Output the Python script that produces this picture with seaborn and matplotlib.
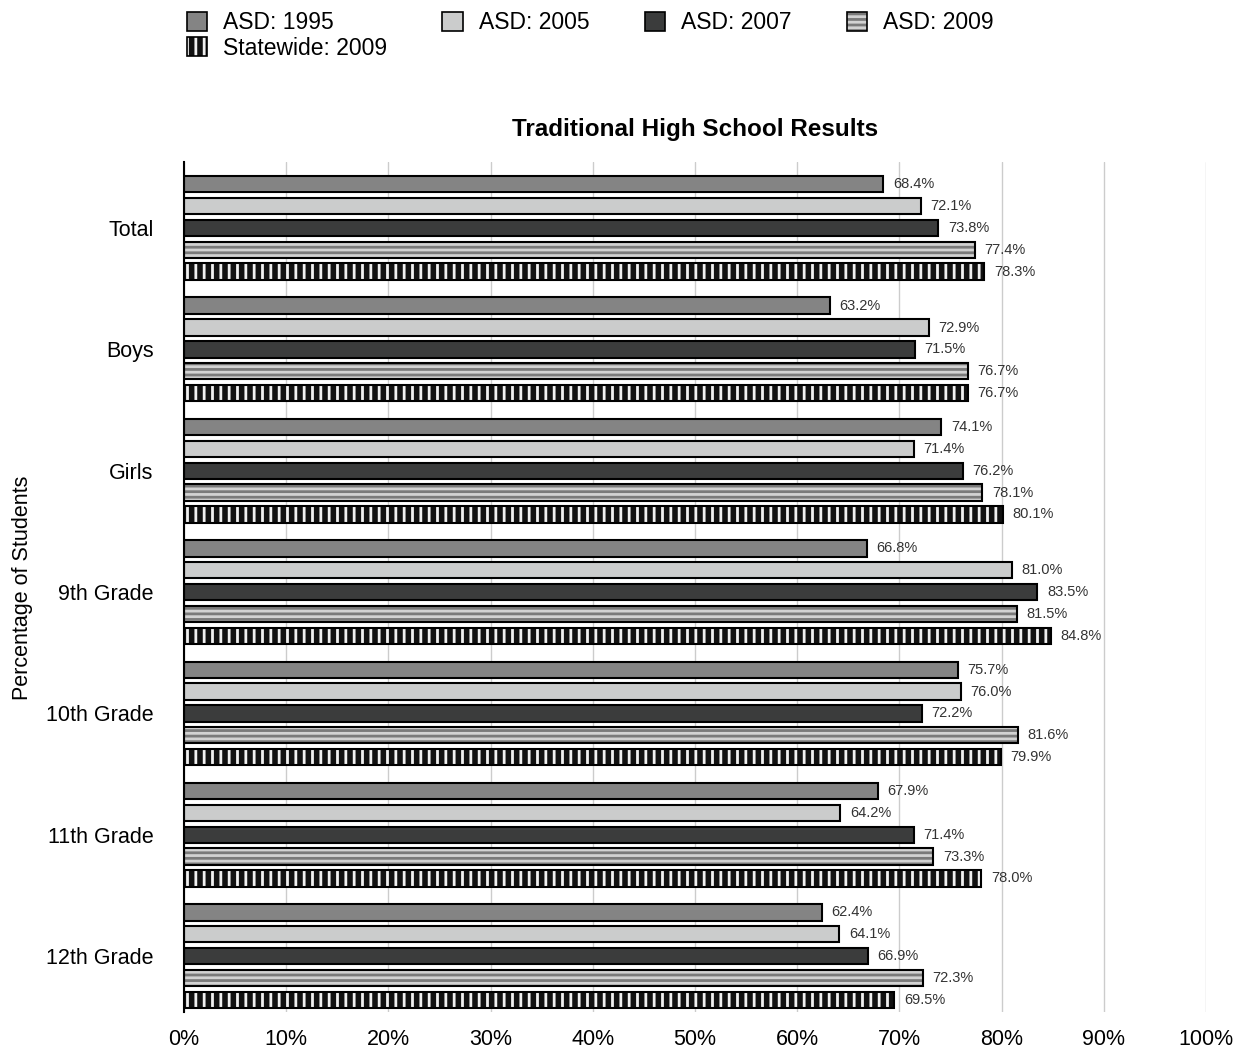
import pandas as pd
import matplotlib
matplotlib.use("Agg")
import matplotlib.pyplot as plt
import matplotlib.patches as mpatches
from matplotlib.legend_handler import HandlerTuple
import seaborn as sns

groups = ["Total", "Boys", "Girls", "9th Grade", "10th Grade", "11th Grade", "12th Grade"]
series = ["ASD: 1995", "ASD: 2005", "ASD: 2007", "ASD: 2009", "Statewide: 2009"]
asd_1995 = [68.4, 63.2, 74.1, 66.8, 75.7, 67.9, 62.4]
asd_2005 = [72.1, 72.9, 71.4, 81.0, 76.0, 64.2, 64.1]
asd_2007 = [73.8, 71.5, 76.2, 83.5, 72.2, 71.4, 66.9]
asd_2009 = [77.4, 76.7, 78.1, 81.5, 81.6, 73.3, 72.3]
state_2009 = [78.3, 76.7, 80.1, 84.8, 79.9, 78.0, 69.5]
xticks = [0, 10, 20, 30, 40, 50, 60, 70, 80, 90, 100]

values = [asd_1995, asd_2005, asd_2007, asd_2009, state_2009]
rows = []
for s, vals in zip(series, values):
    for g, v in zip(groups, vals):
        rows.append({"group": g, "series": s, "value": v})
df = pd.DataFrame(rows)

colors = ["#848484", "#cbcccc", "#3b3c3c", "#d2d2d2", "#111111"]
hatches = [None, None, None, "---", "||"]
hatch_cols = [None, None, None, "#7a7a7a", "#f0f0f0"]

sns.set_style("white")
plt.rcParams["font.family"] = ["Liberation Sans", "DejaVu Sans"]
plt.rcParams["hatch.linewidth"] = 2.0
plt.rcParams["text.color"] = "black"
plt.rcParams["xtick.color"] = "black"
plt.rcParams["ytick.color"] = "black"

fig = plt.figure(figsize=(12.36, 10.49), dpi=100)
ax = fig.add_axes([0.1489, 0.0353, 0.8268, 0.8103])

sns.barplot(data=df, y="group", x="value", hue="series", orient="h",
            palette=colors, edgecolor="black", linewidth=1.5,
            width=0.9, gap=0.25, legend=False, ax=ax, zorder=2)

for i, cont in enumerate(ax.containers):
    if hatches[i]:
        for p in cont:
            p.set_hatch(hatches[i])
            p.set_edgecolor(hatch_cols[i])
            p.set_linewidth(0)
            ax.add_patch(mpatches.Rectangle(p.get_xy(), p.get_width(), p.get_height(),
                                            fill=False, edgecolor="black", linewidth=1.5, zorder=3))
    ax.bar_label(cont, labels=[f"{v:.1f}%" for v in values[i]], padding=7,
                 fontsize=10.5, color="#333333")

ax.set_xlim(0, 100)
ax.set_ylim(6.46, -0.544)
ax.set_xticks(xticks)
ax.set_xticklabels([f"{t}%" for t in xticks], fontsize=15.5)
ax.tick_params(axis="y", labelsize=15.5, length=0, pad=22)
ax.tick_params(axis="x", length=0, pad=12)
ax.grid(axis="x", color="#cccccc", linewidth=1, zorder=0)
ax.set_axisbelow(True)
for s in ["right", "top", "bottom"]:
    ax.spines[s].set_visible(False)
ax.spines["left"].set_color("black")
ax.spines["left"].set_linewidth(1.5)
ax.spines["left"].set_zorder(4)
ax.set_xlabel("")
ax.set_ylabel("")
fig.text(0.018, 0.44, "Percentage of Students", rotation=90, fontsize=15.5,
         ha="center", va="center")
ax.set_title("Traditional High School Results", fontsize=17.5, fontweight="bold", pad=19)

handles = []
for i, s in enumerate(series):
    if hatches[i]:
        h1 = mpatches.Patch(facecolor=colors[i], edgecolor=hatch_cols[i], hatch=hatches[i], linewidth=0)
        h2 = mpatches.Patch(facecolor="none", edgecolor="black", linewidth=1.2)
        handles.append((h1, h2))
    else:
        handles.append(mpatches.Patch(facecolor=colors[i], edgecolor="black", linewidth=1.2))
# legend fills column-wise, so reorder to get row-wise layout
order = [0, 4, 1, 2, 3]
fig.legend([handles[k] for k in order], [series[k] for k in order],
           handler_map={tuple: HandlerTuple(ndivide=1)},
           loc="upper left", bbox_to_anchor=(0.1435, 0.998), ncol=4, frameon=False,
           fontsize=16.5, handlelength=0.9, handleheight=0.9, handletextpad=0.7,
           columnspacing=2.4, labelspacing=0.1, borderaxespad=0.0)

fig.savefig("out.png", dpi=100)
